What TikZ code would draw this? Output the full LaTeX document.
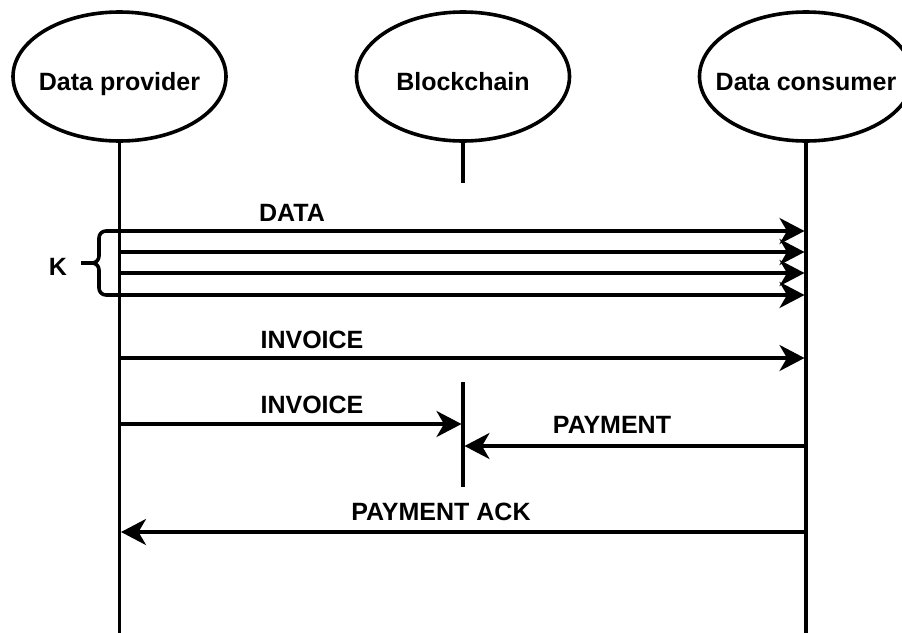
\documentclass[tikz,border=0pt]{standalone}
\usepackage{fontspec}
\setmainfont{Liberation Sans}
\usetikzlibrary{arrows.meta,shapes.geometric}
\begin{document}
\begin{tikzpicture}[x=1pt,y=-1pt,
  actor/.style={draw,ellipse,line width=3.6pt,minimum width=213pt,minimum height=129pt,inner sep=0pt,font=\fontsize{25}{30}\selectfont\bfseries},
  lbl/.style={font=\fontsize{25}{30}\selectfont\bfseries,inner sep=0pt},
  life/.style={line width=3.6pt},
  msg/.style={line width=3.6pt,-{Stealth[length=25pt,width=26pt,inset=7.5pt]},shorten >=1.5pt}]
\useasboundingbox (0,0) rectangle (902,632);
% actors
\node[actor] (prov) at (119.5,76.5) {\makebox[0pt]{\raisebox{-14pt}[0pt][0pt]{Data provider}}};
\node[actor] (chain) at (463,76.5) {\makebox[0pt]{\raisebox{-14pt}[0pt][0pt]{Blockchain}}};
\node[actor] (cons) at (806,76.5) {\makebox[0pt]{\raisebox{-14pt}[0pt][0pt]{Data consumer}}};
% lifeline coordinates
\coordinate (pb) at (119.5,640);
\coordinate (cb) at (806,640);
\coordinate (kt) at (463,183);
\coordinate (k2t) at (463,382);
\coordinate (k2b) at (463,487);
\draw[life] (prov.south) -- (pb);
\draw[life] (chain.south) -- (kt);
\draw[life] (cons.south) -- (cb);
\draw[life] (k2t) -- (k2b);
% message coordinates
\foreach \y/\n in {231/a,252/b,273/c,295/d,358/e} {
  \coordinate (p\n) at (119.5,\y);
  \coordinate (c\n) at (806,\y);
  \draw[msg] (p\n) -- (c\n);
}
\coordinate (pf) at (119.5,424);
\coordinate (kf) at (463,424);
\draw[msg] (pf) -- (kf);
\coordinate (cg) at (806,446);
\coordinate (kg) at (463,446);
\draw[msg] (cg) -- (kg);
\coordinate (ch) at (806,532);
\coordinate (ph) at (119.5,532);
\draw[msg] (ch) -- (ph);
% labels
\node[lbl] (ldata) at (292,213) {DATA};
\node[lbl] (linv1) at (312,340) {INVOICE};
\node[lbl] (linv2) at (312,405) {INVOICE};
\node[lbl] (lpay) at (612,425) {PAYMENT};
\node[lbl] (lack) at (441,512) {PAYMENT ACK};
% brace
\draw[line width=3.6pt,line join=round]
  (119,231) -- (106,231) to[out=180,in=90] (99,238) -- (99,256)
  to[out=-90,in=0] (92,263) -- (81,263)
  (92,263) to[out=0,in=90] (99,270) -- (99,288)
  to[out=-90,in=180] (106,295) -- (119,295);
\node[lbl] (k) at (58,267) {K};
\end{tikzpicture}
\end{document}
